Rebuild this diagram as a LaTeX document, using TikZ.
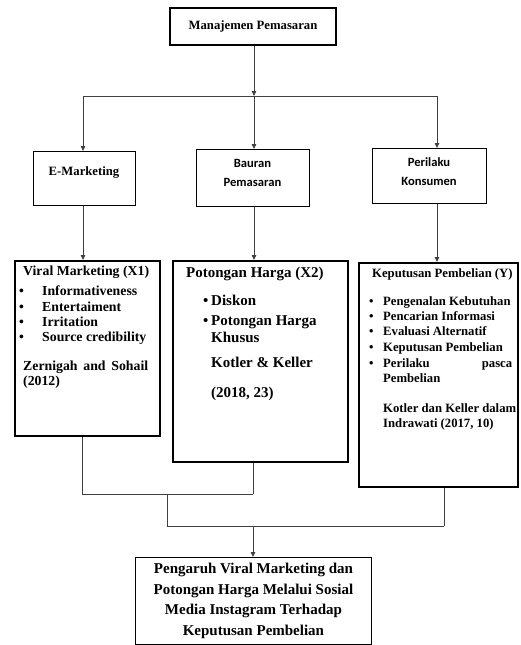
\documentclass[tikz,border=0pt]{standalone}
\usepackage{fontspec}
\setmainfont{Liberation Serif}
\newfontfamily\calibrifont{Carlito}
\usetikzlibrary{arrows.meta}
\newcommand\fTop{\fontsize{12.7}{15.5}\selectfont\bfseries}
\newcommand\fVir{\fontsize{13.8}{15.5}\selectfont\bfseries}
\newcommand\fPot{\fontsize{15}{18}\selectfont\bfseries}
\newcommand\fKep{\fontsize{12.7}{15.5}\selectfont\bfseries}
\newcommand\fBot{\fontsize{15}{20.5}\selectfont\bfseries}
\newcommand\fCal{\calibrifont\fontsize{12.6}{19}\selectfont\bfseries}
\begin{document}
\begin{tikzpicture}[x=1pt,y=-1pt,
  box/.style={draw=black, line width=0.9pt, inner sep=0pt, anchor=north west},
  heavy/.style={box, line width=2pt},
  conn/.style={draw=black!75, line width=0.8pt},
  arr/.style={conn, -{Triangle[length=5pt,width=4.5pt]}},
  txt/.style={inner sep=0pt, anchor=mid west},
  ctxt/.style={inner sep=0pt, anchor=center, align=center}]
\useasboundingbox (0,0) rectangle (520,645);
% boxes
\node[heavy, minimum width=166pt, minimum height=37pt, font=\fTop] (top) at (169,7) {Manajemen Pemasaran};
\node[box, minimum width=102pt, minimum height=54pt] (emk) at (33,151) {};
\node[box, minimum width=113pt, minimum height=57pt] (bau) at (196,149) {};
\node[box, minimum width=114pt, minimum height=55pt] (per) at (372,148) {};
\node[heavy, minimum width=145pt, minimum height=175pt] (vir) at (14,260) {};
\node[heavy, minimum width=175pt, minimum height=201pt] (pot) at (172,260) {};
\node[heavy, minimum width=159pt, minimum height=224pt] (kep) at (358,262) {};
\node[box, minimum width=236pt, minimum height=87pt, align=center, font=\fBot] (bot) at (135,557)
  {Pengaruh Viral Marketing dan\\Potongan Harga Melalui Sosial\\Media Instagram Terhadap\\Keputusan Pembelian};
% second-row texts
\node[txt, anchor=mid, font=\fTop] (emkt) at (84,173) {E-Marketing};
\node[ctxt, font=\fCal] (baut) at (252.5,172.5) {Bauran\\Pemasaran};
\node[ctxt, font=\fCal] (pert) at (429,172) {Perilaku\\Konsumen};
% Viral
\begin{scope}[every node/.append style={font=\fVir}]
\node[txt] (v0) at (23,273) {Viral Marketing (X1)};
\node[txt] (vb1) at (19,293) {•};
\node[txt] (v1) at (42,293) {Informativeness};
\node[txt] (vb2) at (19,309) {•};
\node[txt] (v2) at (42,309) {Entertaiment};
\node[txt] (vb3) at (19,324) {•};
\node[txt] (v3) at (42,324) {Irritation};
\node[txt] (vb4) at (19,339) {•};
\node[txt] (v4) at (42,339) {Source credibility};
\node[txt] (v5) at (23,368) {\hbox to 125pt{Zernigah\hfill and\hfill Sohail}};
\node[txt] (v6) at (23,383) {(2012)};
\end{scope}
% Potongan
\begin{scope}[every node/.append style={font=\fPot}]
\node[txt] (p0) at (186,275) {Potongan Harga (X2)};
\node[txt] (pb1) at (203,303) {•};
\node[txt] (p1) at (211,303) {Diskon};
\node[txt] (pb2) at (203,323) {•};
\node[txt] (p2) at (211,323) {Potongan Harga};
\node[txt] (p3) at (211,340) {Khusus};
\node[txt] (p4) at (211,365) {Kotler \& Keller};
\node[txt] (p5) at (211,395) {(2018, 23)};
\end{scope}
% Keputusan
\begin{scope}[every node/.append style={font=\fKep}]
\node[txt] (k0) at (372,275) {Keputusan Pembelian (Y)};
\node[txt] (kb1) at (369,303) {•};
\node[txt] (k1) at (383,303) {Pengenalan Kebutuhan};
\node[txt] (kb2) at (369,318) {•};
\node[txt] (k2) at (383,318) {Pencarian Informasi};
\node[txt] (kb3) at (369,333) {•};
\node[txt] (k3) at (383,333) {Evaluasi Alternatif};
\node[txt] (kb4) at (369,349) {•};
\node[txt] (k4) at (383,349) {Keputusan Pembelian};
\node[txt] (kb5) at (369,365) {•};
\node[txt] (k5) at (383,365) {\hbox to 129pt{Perilaku\hfill pasca}};
\node[txt] (k6) at (383,380) {Pembelian};
\node[txt] (k7) at (383,410) {Kotler dan Keller dalam};
\node[txt] (k8) at (383,425) {Indrawati (2017, 10)};
\end{scope}
% connectors top
\coordinate (hl) at (83,96);
\coordinate (hm) at (254,96);
\coordinate (hr) at (437,96);
\draw[conn] (hl) -- (hr);
\draw[arr] (top.south -| hm) -- (hm);
\draw[arr] (hl) -- (emk.north -| hl);
\draw[arr] (hm) -- (bau.north -| hm);
\draw[arr] (hr) -- (per.north -| hr);
\draw[arr] (emk.south -| hl) -- (vir.north -| hl);
\draw[arr] (bau.south -| hm) -- (pot.north -| hm);
\draw[arr] (per.south -| hr) -- (kep.north -| hr);
% connectors bottom
\coordinate (j1) at (82,494);
\coordinate (j2) at (253,494);
\coordinate (j3) at (167,494);
\coordinate (j4) at (167,526);
\coordinate (j5) at (444,526);
\coordinate (j6) at (253,526);
\draw[conn] (vir.south -| j1) -- (j1) -- (j2);
\draw[conn] (pot.south -| j2) -- (j2);
\draw[conn] (j3) -- (j4) -- (j5);
\draw[conn] (kep.south -| j5) -- (j5);
\draw[arr] (j6) -- (bot.north -| j6);
\end{tikzpicture}
\end{document}
